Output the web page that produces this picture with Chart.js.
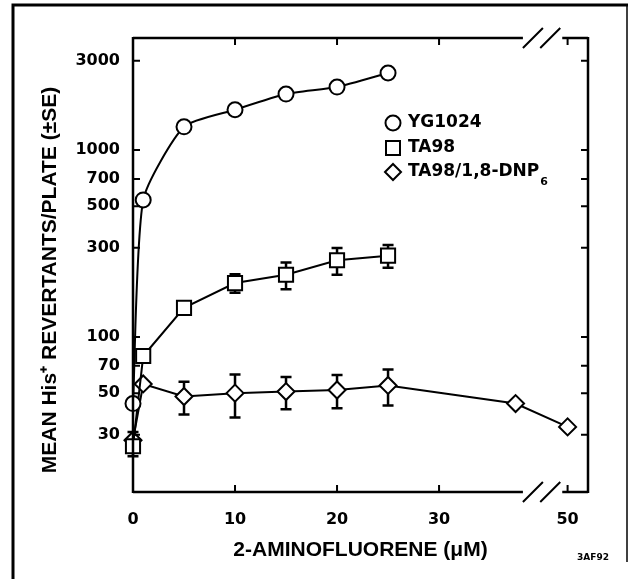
<!DOCTYPE html>
<html>
<head>
<meta charset="utf-8">
<script src="https://cdn.jsdelivr.net/npm/chart.js@4.4.1/dist/chart.umd.min.js"></script>
<style>
  html, body { margin: 0; padding: 0; background: #fff; }
</style>
</head>
<body>
<canvas id="myChart" width="630" height="579"></canvas>
<script>
// 2-aminofluorene dose (uM)
const doses = [0, 1, 5, 10, 15, 20, 25];
const dnpDoses = [0, 1, 5, 10, 15, 20, 25, 37.5, 50];

// mean His+ revertants / plate
const yg1024 = [44, 540, 1330, 1640, 1990, 2170, 2580];
const ta98 = [26, 79, 143, 194, 215, 257, 272];
const ta98Se = [3, 0, 8, 22, 35, 42, 38];
const dnp = [28, 56, 48, 50, 51, 52, 55, 44, 33];
const dnpSe = [3, 0, 9.5, 13, 10, 10.5, 12, 0, 0];

const xTicks = [0, 10, 20, 30, 50];
const yTicks = [30, 50, 70, 100, 300, 500, 700, 1000, 3000];

// broken x axis: everything past the break is pulled left
const BREAK_AT = 40;
const BREAK_SHIFT = 7.4;
const disp = v => v > BREAK_AT ? v - BREAK_SHIFT : v;

const pts = (xs, ys) => xs.map((x, i) => ({ x: disp(x), y: ys[i] }));

const TICK_FONT = { family: 'DejaVu Sans', size: 16, weight: 'bold' };
const TITLE_FONT = { family: 'Liberation Sans', size: 21, weight: 'bold' };

const errorBars = {
  id: 'errorBars',
  beforeDatasetsDraw(chart) {
    const ctx = chart.ctx;
    const xs = chart.scales.x, ys = chart.scales.y;
    ctx.save();
    ctx.strokeStyle = '#000';
    ctx.lineWidth = 2.5;
    chart.data.datasets.forEach(ds => {
      if (!ds.se) return;
      ds.data.forEach((p, i) => {
        const se = ds.se[i];
        if (!se) return;
        const px = xs.getPixelForValue(p.x);
        const top = ys.getPixelForValue(p.y + se);
        const bot = ys.getPixelForValue(p.y - se);
        ctx.beginPath();
        ctx.moveTo(px, top); ctx.lineTo(px, bot);
        ctx.moveTo(px - 5.5, top); ctx.lineTo(px + 5.5, top);
        ctx.moveTo(px - 5.5, bot); ctx.lineTo(px + 5.5, bot);
        ctx.stroke();
      });
    });
    ctx.restore();
  }
};

const frame = {
  id: 'frame',
  afterDraw(chart) {
    const ctx = chart.ctx;
    const { left, right, top, bottom } = chart.chartArea;
    const xs = chart.scales.x, ys = chart.scales.y;
    const b1 = xs.getPixelForValue(BREAK_AT - 0.8);
    const b2 = xs.getPixelForValue(BREAK_AT + 0.9);
    ctx.save();
    ctx.strokeStyle = '#000';
    ctx.lineCap = 'butt';
    ctx.lineWidth = 2.5;
    ctx.beginPath();
    // left and right sides
    ctx.moveTo(left, top - 1); ctx.lineTo(left, bottom + 1);
    ctx.moveTo(right, top - 1); ctx.lineTo(right, bottom + 1);
    // top and bottom, broken
    [top, bottom].forEach(y => {
      ctx.moveTo(left, y); ctx.lineTo(b1 - 10, y);
      ctx.moveTo(b2 + 12, y); ctx.lineTo(right, y);
    });
    ctx.stroke();

    // break slashes
    ctx.lineWidth = 2;
    ctx.beginPath();
    [top, bottom].forEach(y => {
      [b1, b2].forEach(bx => {
        ctx.moveTo(bx - 10, y + 10); ctx.lineTo(bx + 10, y - 10);
      });
    });
    ctx.stroke();

    // inward tick marks
    ctx.lineWidth = 2;
    ctx.beginPath();
    yTicks.forEach(v => {
      const py = ys.getPixelForValue(v);
      ctx.moveTo(left, py); ctx.lineTo(left + 7, py);
      ctx.moveTo(right, py); ctx.lineTo(right - 7, py);
    });
    xTicks.slice(1).forEach(v => {
      const px = xs.getPixelForValue(disp(v));
      ctx.moveTo(px, bottom); ctx.lineTo(px, bottom - 7);
      ctx.moveTo(px, top); ctx.lineTo(px, top + 7);
    });
    ctx.stroke();

    // outer frame of the figure
    ctx.lineWidth = 3;
    ctx.beginPath();
    ctx.moveTo(13, 579); ctx.lineTo(13, 5); ctx.lineTo(628, 5);
    ctx.stroke();
    ctx.lineWidth = 1.5;
    ctx.beginPath();
    ctx.moveTo(627, 5); ctx.lineTo(627, 562);
    ctx.stroke();

    // y axis title
    ctx.fillStyle = '#000';
    ctx.save();
    ctx.translate(50, 280);
    ctx.rotate(-Math.PI / 2);
    ctx.font = 'bold 21px "Liberation Sans"';
    ctx.textAlign = 'center';
    ctx.textBaseline = 'middle';
    ctx.fillText('MEAN His⁺ REVERTANTS/PLATE (±SE)', 0, 0);
    ctx.restore();

    // legend
    const lx = 393, tx = 408;
    const rows = [123, 148, 172];
    ctx.lineWidth = 2;
    ctx.fillStyle = '#fff';
    ctx.beginPath(); ctx.arc(lx, rows[0], 7.5, 0, Math.PI * 2); ctx.fill(); ctx.stroke();
    ctx.beginPath(); ctx.rect(lx - 7, rows[1] - 7, 14, 14); ctx.fill(); ctx.stroke();
    ctx.beginPath();
    ctx.moveTo(lx - 8, rows[2]); ctx.lineTo(lx, rows[2] - 8);
    ctx.lineTo(lx + 8, rows[2]); ctx.lineTo(lx, rows[2] + 8); ctx.closePath();
    ctx.fill(); ctx.stroke();

    ctx.fillStyle = '#000';
    ctx.font = 'bold 17px "DejaVu Sans"';
    ctx.textBaseline = 'middle';
    ctx.textAlign = 'left';
    ctx.fillText('YG1024', tx, rows[0]);
    ctx.fillText('TA98', tx, rows[1]);
    const lab = 'TA98/1,8-DNP';
    ctx.fillText(lab, tx, rows[2]);
    const w = ctx.measureText(lab).width;
    ctx.font = 'bold 11px "DejaVu Sans"';
    ctx.fillText('6', tx + w + 1, rows[2] + 10);

    ctx.font = 'bold 9px "DejaVu Sans"';
    ctx.fillText('3AF92', 577, 558);
    ctx.restore();
  }
};

const common = {
  borderColor: '#000',
  borderWidth: 2,
  pointBackgroundColor: '#fff',
  pointBorderColor: '#000',
  pointBorderWidth: 2,
  showLine: true,
  clip: false
};

new Chart(document.getElementById('myChart'), {
  type: 'scatter',
  data: {
    datasets: [
      { ...common, label: 'YG1024', data: pts(doses, yg1024),
        pointStyle: 'circle', pointRadius: 7.5, tension: 0.2 },
      { ...common, label: 'TA98', data: pts(doses, ta98), se: ta98Se,
        pointStyle: 'rect', pointRadius: 10 },
      { ...common, label: 'TA98/1,8-DNP6', data: pts(dnpDoses, dnp), se: dnpSe,
        pointStyle: 'rectRot', pointRadius: 8.5 }
    ]
  },
  options: {
    responsive: false,
    animation: false,
    layout: { padding: { top: 38, right: 42, left: 0, bottom: 0 } },
    plugins: { legend: { display: false }, tooltip: { enabled: false } },
    scales: {
      x: {
        type: 'linear',
        min: 0,
        max: 44.6,
        grid: { display: false, drawTicks: false },
        border: { display: false },
        afterBuildTicks: s => { s.ticks = xTicks.map(v => ({ value: disp(v) })); },
        afterFit: s => { s.height = 87; },
        ticks: {
          autoSkip: false, maxRotation: 0, color: '#000', font: TICK_FONT, padding: 18,
          callback: (v, i) => String(xTicks[i])
        },
        title: {
          display: true, text: '2-AMINOFLUORENE (μM)', color: '#000', font: TITLE_FONT,
          padding: { top: 0, bottom: 16 }
        }
      },
      y: {
        type: 'logarithmic',
        min: 14.8,
        max: 3970,
        grid: { display: false, drawTicks: false },
        border: { display: false },
        afterBuildTicks: s => { s.ticks = yTicks.map(v => ({ value: v })); },
        afterFit: s => { s.width = 133; },
        ticks: {
          autoSkip: false, color: '#000', font: TICK_FONT, padding: 13,
          callback: v => String(v)
        }
      }
    }
  },
  plugins: [errorBars, frame]
});
</script>
</body>
</html>
